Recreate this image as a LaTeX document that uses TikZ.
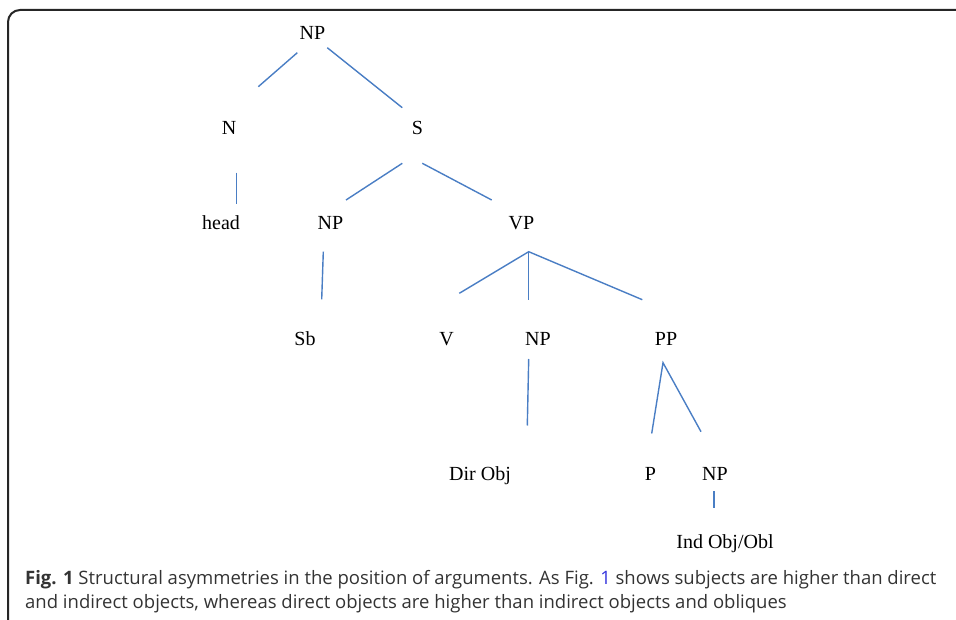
\documentclass[tikz,border=0pt]{standalone}
\usepackage{fontspec}
\setmainfont{Liberation Serif}
\newfontfamily\capfont{Open Sans}
\definecolor{treeblue}{HTML}{4A7EC4}
\definecolor{capgray}{HTML}{333333}
\definecolor{linkblue}{HTML}{3333DD}
\begin{document}
\begin{tikzpicture}[x=1pt,y=-1pt,
  lab/.style={anchor=base,inner sep=0pt,font=\fontsize{20}{24}\selectfont},
  br/.style={draw=treeblue,line width=1.4pt},
  captext/.style={anchor=base west,inner sep=0pt,text=capgray,font=\capfont\fontsize{18.5}{22}\selectfont}]
\useasboundingbox (0,0) rectangle (956,620);
\draw[line width=2pt,draw=black!85,rounded corners=12pt] (8,640) -- (8,10) -- (980,10);
% labels
\node[lab] (np0) at (312.5,40) {NP};
\node[lab] (n) at (229,135) {N};
\node[lab] (s) at (417.5,135) {S};
\node[lab] (head) at (221,229.5) {head};
\node[lab] (np1) at (330.5,229.5) {NP};
\node[lab] (vp) at (521.5,229.5) {VP};
\node[lab] (sb) at (305,345) {Sb};
\node[lab] (v) at (446.5,345) {V};
\node[lab] (np2) at (538,345) {NP};
\node[lab] (pp) at (666,345) {PP};
\node[lab] (dobj) at (480,480) {Dir Obj};
\node[lab] (p) at (650.5,480) {P};
\node[lab] (np3) at (715,480) {NP};
\node[lab] (iobj) at (725,548) {Ind Obj/Obl};
% branch end points
\coordinate (a1) at (297.3,52.7);  \coordinate (a2) at (258.3,86.7);
\coordinate (b1) at (327.3,47.7);  \coordinate (b2) at (402.3,107.7);
\coordinate (c1) at (236.3,172.7); \coordinate (c2) at (236.3,204.3);
\coordinate (d1) at (402.3,163.3); \coordinate (d2) at (346,200);
\coordinate (e1) at (422.3,163.3); \coordinate (e2) at (491.7,200);
\coordinate (f1) at (323.3,251.7); \coordinate (f2) at (321.7,299.3);
\coordinate (vpt) at (528.7,251.7);
\coordinate (g2) at (459.3,293.3);
\coordinate (h2) at (528.7,299.7);
\coordinate (i2) at (642.3,299.7);
\coordinate (j1) at (528.7,359);   \coordinate (j2) at (527.3,425.5);
\coordinate (ppt) at (663,362.7);
\coordinate (k2) at (651.7,433.5);
\coordinate (l2) at (701,431.7);
\coordinate (m1) at (714,491);     \coordinate (m2) at (714,508.3);
% branches
\draw[br] (a1) -- (a2);
\draw[br] (b1) -- (b2);
\draw[br] (c1) -- (c2);
\draw[br] (d1) -- (d2);
\draw[br] (e1) -- (e2);
\draw[br] (f1) -- (f2);
\draw[br] (g2) -- (vpt) -- (i2);
\draw[br] (vpt) -- (h2);
\draw[br] (j1) -- (j2);
\draw[br] (k2) -- (ppt) -- (l2);
\draw[br] (m1) -- (m2);
% caption
\node[captext] (cap1) at (25,584) {\textbf{Fig. 1} Structural asymmetries in the position of arguments. As Fig. \textcolor{linkblue}{1} shows subjects are higher than direct};
\node[captext] (cap2) at (25,608.5) {and indirect objects, whereas direct objects are higher than indirect objects and obliques};
\end{tikzpicture}
\end{document}
